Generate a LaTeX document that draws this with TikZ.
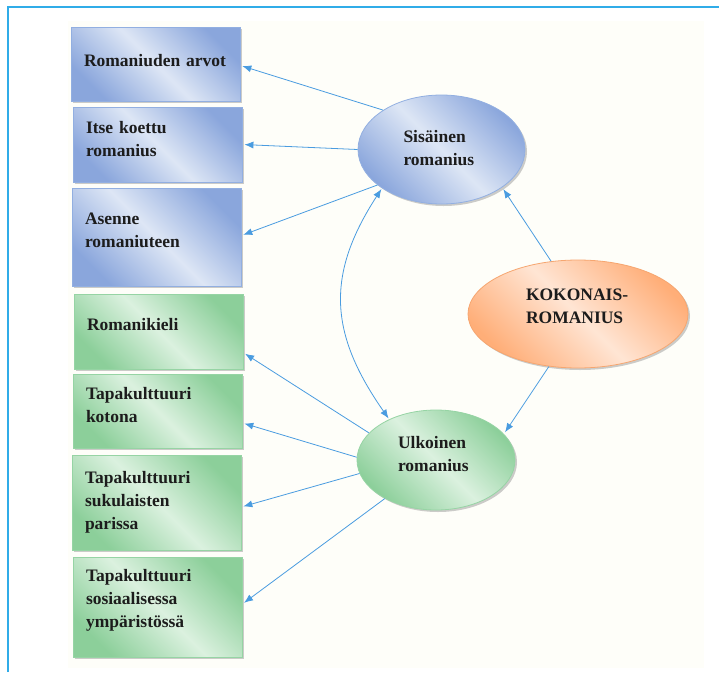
\documentclass[tikz,border=0pt]{standalone}
\usepackage{fontspec}
\setmainfont{Liberation Serif}
\usetikzlibrary{arrows.meta,shapes.geometric,shadows}

\definecolor{bluedark}{RGB}{138,166,220}
\definecolor{bluelight}{RGB}{221,230,245}
\definecolor{blueedge}{RGB}{146,175,225}
\definecolor{greendark}{RGB}{140,207,154}
\definecolor{greenlight}{RGB}{219,241,223}
\definecolor{greenedge}{RGB}{150,212,164}
\definecolor{orangedark}{RGB}{255,174,120}
\definecolor{orangelight}{RGB}{255,229,212}
\definecolor{orangeedge}{RGB}{246,166,112}
\definecolor{arrowblue}{RGB}{74,156,224}
\definecolor{framecol}{RGB}{48,172,232}
\definecolor{ivory}{RGB}{254,254,249}
\definecolor{txtcol}{RGB}{28,28,28}

\tikzset{
  base/.style={draw, line width=0.8pt, font=\fontsize{17.5}{23}\selectfont\bfseries,
    text=txtcol, drop shadow={shadow xshift=2pt, shadow yshift=-2pt, opacity=0.4, fill=gray}},
  box/.style={base, rectangle, minimum width=169pt, text width=143pt,
    inner xsep=13pt, inner ysep=0pt, align=left},
  ell/.style={base, ellipse, inner sep=0pt, align=left},
  bluefill/.style={top color=bluedark, bottom color=bluedark, middle color=bluelight,
    shading angle=-45, draw=blueedge},
  greenfill/.style={top color=greendark, bottom color=greendark, middle color=greenlight,
    shading angle=-45, draw=greenedge},
  orangefill/.style={top color=orangedark, bottom color=orangedark, middle color=orangelight,
    shading angle=-45, draw=orangeedge},
  lift/.style={execute at end node={\par\kern#1pt}},
  conn/.style={draw=arrowblue, line width=0.8pt, shorten >=2pt, -{Latex[length=9pt,width=7pt]}},
  biconn/.style={draw=arrowblue, line width=0.8pt, shorten >=1pt, shorten <=1pt,
    {Latex[length=9pt,width=7pt]}-{Latex[length=9pt,width=7pt]}}
}

\begin{document}
\begin{tikzpicture}[x=1pt,y=-1pt]
\useasboundingbox (0,0) rectangle (719,672);
\fill[ivory] (68,21) rectangle (704,668);
\draw[framecol, line width=2pt] (8,672) -- (8,7) -- (719,7);

% blue boxes
\node[box,bluefill,lift=6,minimum height=74pt] (b1) at (155.5,64) {Romaniuden arvot};
\node[box,bluefill,lift=10,minimum height=75pt] (b2) at (157.5,144.5) {Itse koettu\\romanius};
\node[box,bluefill,lift=13,minimum height=98pt] (b3) at (156.5,237) {Asenne\\romaniuteen};

% green boxes
\node[box,greenfill,lift=13,minimum height=75pt] (b4) at (158.5,331.5) {Romanikieli};
\node[box,greenfill,lift=12,minimum height=74pt] (b5) at (157.5,411) {Tapakulttuuri\\kotona};
\node[box,greenfill,lift=0,minimum height=95pt] (b6) at (156.5,502.5) {Tapakulttuuri\\sukulaisten\\parissa};
\node[box,greenfill,lift=14,minimum height=100pt] (b7) at (157.5,607) {Tapakulttuuri\\sosiaalisessa\\ympäristössä};

% ellipses
\node[ell,bluefill,minimum width=167pt,minimum height=109pt,text width=76pt,lift=2] (s) at (441.5,149.5) {Sisäinen\\romanius};
\node[ell,orangefill,minimum width=220pt,minimum height=108pt,text width=104pt,lift=16] (k) at (578,314) {KOKONAIS-\\ROMANIUS};
\node[ell,greenfill,minimum width=158pt,minimum height=100pt,text width=76pt,lift=12] (u) at (436,460) {Ulkoinen\\romanius};

% connectors
\draw[conn] (s.146) -- (b1.-1.4);
\draw[conn] (s.180) -- (b2.east);
\draw[conn] (s.209) -- (b3.1.4);
\draw[biconn] (s.213) to[out=237,in=125,looseness=1.15] (u.139);
\draw[conn] (k.117) -- (s.-32);
\draw[conn] (k.241) -- (u.21);
\draw[conn] (u.158) -- (b4.-14);
\draw[conn] (u.178) -- (b5.-8.7);
\draw[conn] (u.190) -- (b6.-3);
\draw[conn] (u.217) -- (b7.2.7);
\end{tikzpicture}
\end{document}
